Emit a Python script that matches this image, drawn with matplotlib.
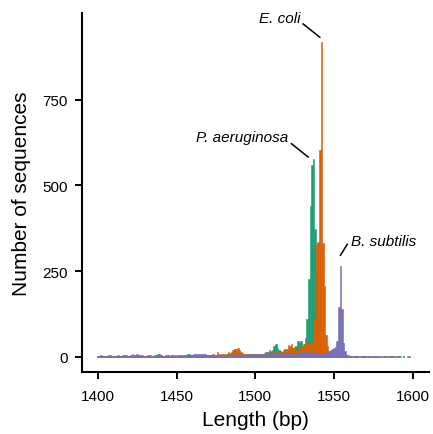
import numpy as np
import matplotlib
matplotlib.use("Agg")
import matplotlib.pyplot as plt

plt.rcParams["font.family"] = ["Liberation Sans", "DejaVu Sans"]

# read length (bp), one bin per base pair
lengths = np.arange(1400, 1601)

# P. aeruginosa
pa_counts = [
    1, 0, 2, 1, 0, 2, 1, 6, 2, 1,
    0, 1, 2, 1, 0, 3, 6, 1, 2, 0,
    1, 2, 1, 3, 1, 0, 2, 1, 3, 1,
    2, 1, 0, 2, 3, 1, 2, 4, 8, 9,
    6, 2, 3, 1, 2, 4, 2, 3, 1, 2,
    3, 2, 4, 3, 2, 5, 3, 8, 9, 6,
    3, 4, 2, 3, 5, 4, 3, 2, 4, 5,
    4, 3, 5, 6, 4, 3, 5, 4, 6, 5,
    6, 5, 7, 8, 6, 9, 14, 22, 12, 8,
    6, 7, 5, 8, 6, 9, 7, 6, 8, 5,
    7, 6, 5, 8, 9, 7, 10, 12, 14, 18,
    16, 20, 30, 38, 26, 18, 15, 12, 20, 22,
    18, 15, 20, 25, 24, 28, 30, 46, 40, 45,
    30, 38, 55, 110, 227, 440, 560, 578, 372, 247,
    120, 50, 20, 8, 5, 3, 2, 1, 1, 0,
    0, 0, 1, 0, 0, 1, 0, 1, 0, 0,
    1, 0, 0, 1, 0, 1, 0, 0, 2, 1,
    1, 0, 1, 2, 0, 1, 1, 0, 2, 1,
    0, 1, 2, 1, 0, 1, 2, 1, 0, 1,
    1, 0, 1, 0, 1, 0, 0, 1, 0, 0,
    0,
]

# E. coli
ec_counts = [
    3, 2, 4, 3, 1, 2, 3, 2, 4, 1,
    2, 1, 3, 4, 2, 1, 3, 2, 5, 3,
    2, 3, 1, 2, 4, 2, 1, 3, 2, 2,
    3, 1, 2, 4, 2, 3, 1, 2, 3, 2,
    2, 3, 1, 4, 2, 3, 2, 5, 3, 2,
    3, 2, 4, 3, 2, 3, 4, 2, 3, 5,
    4, 3, 5, 4, 6, 3, 5, 4, 3, 6,
    5, 4, 6, 8, 5, 6, 12, 7, 5, 8,
    9, 6, 8, 14, 10, 12, 18, 22, 15, 25,
    18, 12, 10, 8, 7, 9, 8, 6, 5, 7,
    6, 8, 5, 7, 6, 9, 8, 10, 8, 12,
    10, 14, 12, 9, 11, 13, 16, 12, 14, 20,
    22, 34, 30, 36, 26, 18, 22, 20, 24, 30,
    28, 32, 36, 42, 38, 40, 40, 60, 110, 330,
    335, 605, 919, 331, 207, 62, 30, 15, 8, 4,
    3, 2, 1, 1, 0, 1, 0, 0, 1, 0,
    0, 1, 0, 0, 1, 0, 0, 0, 1, 0,
    1, 0, 0, 1, 0, 0, 1, 0, 0, 0,
    0, 0, 1, 0, 0, 0, 0, 1, 0, 0,
    0, 1, 0, 0, 0, 0, 0, 0, 1, 0,
    0,
]

# B. subtilis
bs_counts = [
    1, 2, 1, 2, 1, 2, 3, 2, 1, 2,
    2, 1, 3, 2, 2, 3, 2, 4, 3, 2,
    3, 6, 7, 6, 5, 7, 6, 5, 4, 3,
    3, 2, 4, 3, 2, 3, 4, 3, 2, 3,
    4, 3, 2, 3, 4, 5, 3, 4, 3, 4,
    3, 4, 3, 5, 4, 3, 4, 5, 4, 5,
    6, 7, 8, 9, 8, 7, 8, 9, 7, 6,
    5, 4, 5, 6, 5, 4, 5, 6, 5, 4,
    5, 4, 6, 5, 6, 6, 5, 7, 6, 5,
    6, 5, 7, 6, 5, 7, 6, 7, 7, 6,
    7, 7, 6, 8, 7, 6, 8, 7, 8, 8,
    8, 9, 8, 9, 8, 8, 9, 9, 8, 9,
    9, 10, 10, 9, 11, 10, 9, 11, 10, 12,
    11, 12, 12, 11, 10, 12, 13, 11, 10, 12,
    11, 10, 10, 11, 10, 10, 12, 14, 18, 21,
    24, 28, 45, 145, 265, 140, 40, 15, 6, 4,
    3, 2, 2, 1, 2, 1, 1, 2, 1, 1,
    1, 1, 2, 1, 1, 1, 0, 1, 1, 0,
    1, 0, 1, 1, 0, 1, 0, 0, 1, 0,
    0, 1, 0, 0, 1, 0, 0, 0, 0, 0,
    0,
]

series = [
    (pa_counts, "#1B9E77"),
    (ec_counts, "#D95F02"),
    (bs_counts, "#7570B3"),
]

# label text, text position, segment start, segment end
labels = [
    ("E. coli", (1529, 989), (1530.4, 972), (1541, 933), "right"),
    ("P. aeruginosa", (1521, 643), (1523, 622), (1533.6, 583), "right"),
    ("B. subtilis", (1561, 339), (1558.4, 328), (1554.1, 296), "left"),
]

fig = plt.figure(figsize=(4.33, 4.35), dpi=100)
ax = fig.add_axes([82 / 433, 1 - 373 / 435, 347.3 / 433, 358.7 / 435])

for counts, color in series:
    counts = np.asarray(counts)
    nz = counts > 0
    ax.bar(lengths[nz], counts[nz], width=1.0, facecolor=color,
           edgecolor=color, linewidth=0.4)

for text, (tx, ty), (x0, y0), (x1, y1), ha in labels:
    ax.text(tx, ty, text, ha=ha, va="center", fontsize=11, style="italic")
    ax.plot([x0, x1], [y0, y1], color="black", linewidth=1.1)

ax.set_xlim(1390, 1610.5)
ax.set_ylim(-45, 1003)
ax.set_xticks([1400, 1450, 1500, 1550, 1600])
ax.set_yticks([0, 250, 500, 750])

for side in ["top", "right"]:
    ax.spines[side].set_visible(False)
for side in ["left", "bottom"]:
    ax.spines[side].set_linewidth(1.5)
ax.tick_params(axis="both", direction="out", length=5, width=1.4,
               labelsize=11, colors="black")
ax.tick_params(axis="x", pad=7)
ax.tick_params(axis="y", pad=5)

ax.set_xlabel("Length (bp)", fontsize=15, labelpad=5)
ax.set_ylabel("Number of sequences", fontsize=15, labelpad=8)

fig.savefig("out.png", dpi=100)
